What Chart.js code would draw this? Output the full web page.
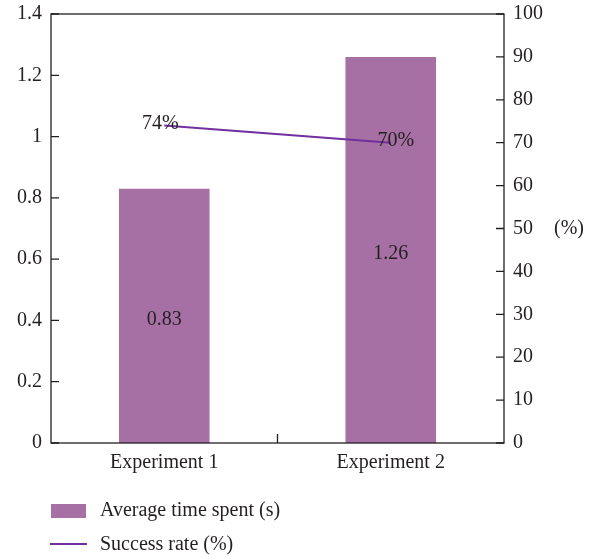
<!DOCTYPE html>
<html>
<head>
<meta charset="utf-8">
<script src="https://cdn.jsdelivr.net/npm/chart.js@4"></script>
<style>
  body { margin: 0; background: #fff; }
  #wrap { width: 597px; height: 559px; }
</style>
</head>
<body>
<div id="wrap"><canvas id="chart" width="597" height="559"></canvas></div>
<script>
const categories  = ['Experiment 1', 'Experiment 2'];
const avgTime     = [0.83, 1.26];
const successRate = [74, 70];
const seriesNames = ['Average time spent (s)', 'Success rate (%)'];

const INK  = '#231f20';
const BAR  = '#a670a4';
const LINE = '#7030a0';

Chart.defaults.font.family = "'Liberation Serif', 'Times New Roman', serif";
Chart.defaults.font.size = 20;
Chart.defaults.color = INK;

// plot frame + inward tick marks
const frame = {
  id: 'frame',
  afterDatasetsDraw(chart) {
    const { ctx, chartArea: a, scales } = chart;
    ctx.save();
    ctx.strokeStyle = INK;
    ctx.lineWidth = 1.3;
    ctx.strokeRect(a.left, a.top, a.right - a.left, a.bottom - a.top);
    ctx.beginPath();
    scales.y.ticks.forEach((t, i) => {
      const y = scales.y.getPixelForTick(i);
      ctx.moveTo(a.left, y); ctx.lineTo(a.left + 8, y);
    });
    scales.y1.ticks.forEach((t, i) => {
      const y = scales.y1.getPixelForTick(i);
      ctx.moveTo(a.right, y); ctx.lineTo(a.right - 8, y);
    });
    for (let i = 1; i < categories.length; i++) {
      const x = (scales.x.getPixelForTick(i - 1) + scales.x.getPixelForTick(i)) / 2;
      ctx.moveTo(x, a.bottom); ctx.lineTo(x, a.bottom - 9);
    }
    ctx.stroke();
    ctx.restore();
  }
};

// value labels, right-axis unit and the stacked legend
const annotate = {
  id: 'annotate',
  afterDraw(chart) {
    const { ctx, scales } = chart;
    ctx.save();
    ctx.fillStyle = INK;
    ctx.font = "20px 'Liberation Serif', serif";
    ctx.textAlign = 'center';
    ctx.textBaseline = 'middle';
    chart.getDatasetMeta(0).data.forEach((bar, i) => {
      ctx.fillText(String(avgTime[i]), bar.x, (bar.y + bar.base) / 2 + 4);
    });
    const shift = [-4, 5];
    chart.getDatasetMeta(1).data.forEach((pt, i) => {
      ctx.fillText(successRate[i] + '%', pt.x + shift[i], pt.y - 2);
    });
    ctx.fillText('(%)', 569, scales.y1.getPixelForValue(50));

    // legend
    ctx.textAlign = 'left';
    ctx.fillStyle = BAR;
    ctx.fillRect(51, 504, 35, 14);
    ctx.strokeStyle = LINE;
    ctx.lineWidth = 2;
    ctx.beginPath();
    ctx.moveTo(50, 544); ctx.lineTo(87, 544);
    ctx.stroke();
    ctx.fillStyle = INK;
    ctx.fillText(seriesNames[0], 100, 511);
    ctx.fillText(seriesNames[1], 100, 545);
    ctx.restore();
  }
};

const fitSide = w => s => { s.width = w; s.paddingTop = 0; s.paddingBottom = 0; };

new Chart(document.getElementById('chart'), {
  data: {
    labels: categories,
    datasets: [
      {
        type: 'bar',
        label: seriesNames[0],
        data: avgTime,
        backgroundColor: BAR,
        yAxisID: 'y',
        order: 2,
        barPercentage: 0.4,
        categoryPercentage: 1
      },
      {
        type: 'line',
        label: seriesNames[1],
        data: successRate,
        borderColor: LINE,
        borderWidth: 2,
        pointRadius: 0,
        yAxisID: 'y1',
        order: 1
      }
    ]
  },
  options: {
    responsive: false,
    animation: false,
    layout: { padding: { top: 14 } },
    plugins: { legend: { display: false }, tooltip: { enabled: false } },
    scales: {
      x: {
        offset: true,
        grid: { display: false, drawTicks: false },
        border: { display: false },
        ticks: { padding: 8 },
        afterFit: s => { s.height = 116; }
      },
      y: {
        position: 'left',
        min: 0, max: 1.4,
        grid: { display: false, drawTicks: false },
        border: { display: false },
        ticks: { stepSize: 0.2, padding: 9, callback: v => String(+v.toFixed(1)) },
        afterFit: fitSide(51)
      },
      y1: {
        position: 'right',
        min: 0, max: 100,
        grid: { display: false, drawTicks: false },
        border: { display: false },
        ticks: { stepSize: 10, padding: 9 },
        afterFit: fitSide(93)
      }
    }
  },
  plugins: [frame, annotate]
});
</script>
</body>
</html>
